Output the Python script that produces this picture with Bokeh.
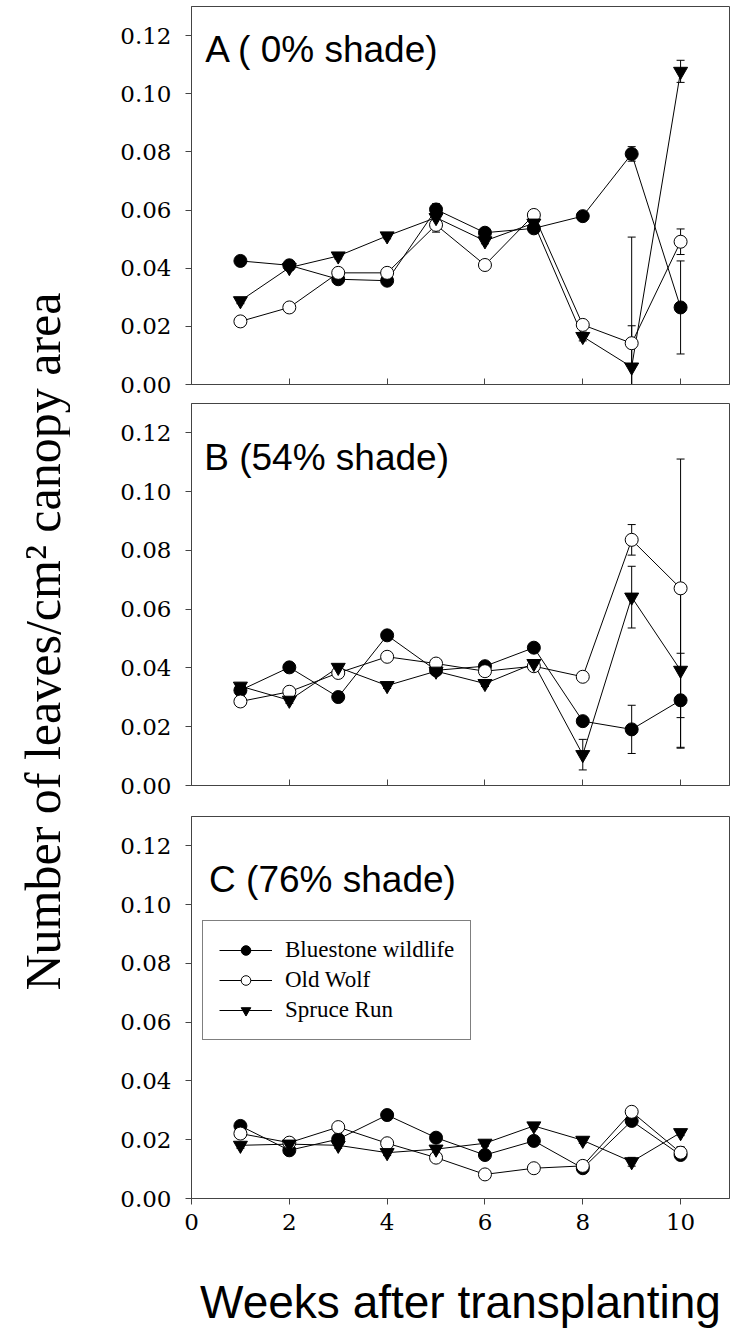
import numpy as np
from bokeh.plotting import figure
from bokeh.models import (ColumnDataSource, Whisker, TeeHead, FixedTicker,
                          PrintfTickFormatter, Label, Legend, LegendItem, Range1d)
from bokeh.layouts import row, column
from bokeh.embed import file_html
from bokeh.resources import INLINE

# ---------------- data ----------------
weeks = [1, 2, 3, 4, 5, 6, 7, 8, 9, 10]
x_ticks = [0, 2, 4, 6, 8, 10]
y_ticks = [0.00, 0.02, 0.04, 0.06, 0.08, 0.10, 0.12]
series_names = ["Bluestone wildlife", "Old Wolf", "Spruce Run"]
panel_titles = ["A ( 0% shade)", "B (54% shade)", "C (76% shade)"]

# Panel A (0% shade)
bw_A = [0.0425, 0.0410, 0.0362, 0.0357, 0.0602, 0.0522, 0.0537, 0.0579, 0.0793, 0.0265]
ow_A = [0.0217, 0.0265, 0.0384, 0.0384, 0.0549, 0.0411, 0.0583, 0.0205, 0.0142, 0.0491]
sr_A = [0.0288, 0.0402, 0.0442, 0.0511, 0.0574, 0.0494, 0.0555, 0.0165, 0.0060, 0.1077]
bw_A_se = [0.001, 0.001, 0.001, 0.001, 0.002, 0.001, 0.001, 0.001, 0.0025, 0.0160]
ow_A_se = [0.001, 0.001, 0.001, 0.001, 0.0025, 0.001, 0.001, 0.001, 0.0365, 0.0044]
sr_A_se = [0.001, 0.001, 0.001, 0.001, 0.001, 0.001, 0.001, 0.0015, 0.0142, 0.0038]

# Panel B (54% shade)
bw_B = [0.0324, 0.0402, 0.0301, 0.0511, 0.0392, 0.0406, 0.0469, 0.0219, 0.0191, 0.0290]
ow_B = [0.0286, 0.0319, 0.0383, 0.0438, 0.0415, 0.0389, 0.0406, 0.0370, 0.0836, 0.0671]
sr_B = [0.0338, 0.0290, 0.0402, 0.0340, 0.0389, 0.0347, 0.0415, 0.0105, 0.0641, 0.0392]
bw_B_se = [0.001, 0.0015, 0.001, 0.001, 0.001, 0.001, 0.001, 0.0015, 0.0082, 0.0160]
ow_B_se = [0.001, 0.001, 0.001, 0.001, 0.001, 0.001, 0.001, 0.001, 0.0052, 0.0440]
sr_B_se = [0.001, 0.001, 0.001, 0.001, 0.001, 0.001, 0.001, 0.0052, 0.0105, 0.0265]

# Panel C (76% shade)
bw_C = [0.0247, 0.0164, 0.0202, 0.0284, 0.0207, 0.0148, 0.0196, 0.0103, 0.0264, 0.0148]
ow_C = [0.0221, 0.0190, 0.0243, 0.0188, 0.0139, 0.0082, 0.0103, 0.0111, 0.0295, 0.0156]
sr_C = [0.0181, 0.0185, 0.0181, 0.0156, 0.0168, 0.0188, 0.0247, 0.0198, 0.0125, 0.0224]
bw_C_se = [0.001, 0.001, 0.001, 0.001, 0.001, 0.001, 0.001, 0.001, 0.001, 0.001]
ow_C_se = [0.001, 0.001, 0.001, 0.001, 0.001, 0.001, 0.001, 0.001, 0.001, 0.002]
sr_C_se = [0.001, 0.001, 0.001, 0.001, 0.001, 0.001, 0.001, 0.001, 0.0015, 0.001]

# ---------------- styles ----------------
SERIF = "Liberation Serif"
TICK_FONT = "DejaVu Serif"
SANS = "Liberation Sans"
FRAME = "#444444"
MARKERS = [("circle", "black", 13), ("circle", "white", 13), ("inverted_triangle", "black", 14)]


def make_panel(height, b_left, b_top, b_bottom, vals, errs, title, title_pos, bottom_labels):
    p = figure(width=660, height=height, x_range=Range1d(0, 11), y_range=Range1d(0, 0.13),
               output_backend="svg", toolbar_location=None,
               min_border_left=b_left, min_border_right=1,
               min_border_top=b_top, min_border_bottom=b_bottom)
    p.grid.visible = False
    p.outline_line_color = FRAME
    p.outline_line_width = 1

    # y axis
    p.yaxis.ticker = FixedTicker(ticks=y_ticks)
    p.yaxis.formatter = PrintfTickFormatter(format="%.2f")
    p.yaxis.major_tick_out = 6
    p.yaxis.major_tick_in = 0
    p.yaxis.minor_tick_out = 0
    p.yaxis.minor_tick_in = 0
    p.yaxis.major_label_standoff = 14
    p.yaxis.major_label_text_font = TICK_FONT
    p.yaxis.major_label_text_font_size = "23px"
    p.yaxis.major_label_text_font_style = "normal"
    p.yaxis.major_label_text_color = "black"
    p.yaxis.axis_line_color = FRAME
    p.yaxis.major_tick_line_color = FRAME

    # x axis
    p.xaxis.ticker = FixedTicker(ticks=x_ticks)
    p.xaxis.minor_tick_out = 0
    p.xaxis.minor_tick_in = 0
    p.xaxis.axis_line_color = FRAME
    p.xaxis.major_tick_line_color = FRAME
    if bottom_labels:
        p.xaxis.major_tick_out = 6
        p.xaxis.major_tick_in = 0
        p.xaxis.major_label_standoff = 9
        p.xaxis.major_label_text_font = TICK_FONT
        p.xaxis.major_label_text_font_size = "23px"
        p.xaxis.major_label_text_color = "black"
        p.xaxis.axis_label = "Weeks after transplanting"
        p.xaxis.axis_label_text_font = SANS
        p.xaxis.axis_label_text_font_size = "46px"
        p.xaxis.axis_label_text_font_style = "normal"
        p.xaxis.axis_label_text_color = "black"
        p.xaxis.axis_label_standoff = 43
    else:
        p.xaxis.major_tick_out = 0
        p.xaxis.major_tick_in = 6
        p.xaxis.major_label_standoff = 0
        p.xaxis.major_label_overrides = {t: "" for t in x_ticks}
        p.xaxis.major_label_text_font_size = "1px"

    renderers = []
    for (marker, fill, size), v, e in zip(MARKERS, vals, errs):
        v = np.asarray(v)
        e = np.asarray(e)
        src = ColumnDataSource(dict(x=weeks, y=v, upper=v + e, lower=np.clip(v - e, 0, None)))
        w = Whisker(source=src, base="x", upper="upper", lower="lower",
                    line_color="black", line_width=1, level="underlay",
                    upper_head=TeeHead(size=8, line_color="black", line_width=1),
                    lower_head=TeeHead(size=8, line_color="black", line_width=1))
        p.add_layout(w)
        lr = p.line("x", "y", source=src, line_color="black", line_width=1)
        renderers.append([lr, src, marker, fill, size])
    out = []
    for lr, src, marker, fill, size in renderers:
        sr = p.scatter("x", "y", source=src, marker=marker, size=size,
                       fill_color=fill, line_color="black", line_width=1)
        out.append((lr, sr))

    p.add_layout(Label(x=title_pos[0], y=title_pos[1], text=title, text_font=SANS,
                       text_font_size="37px", text_align="left",
                       text_baseline="alphabetic", text_color="black"))
    return p, out


pA, _ = make_panel(400, 121, 6, 16, [bw_A, ow_A, sr_A], [bw_A_se, ow_A_se, sr_A_se],
                   panel_titles[0], (0.28, 0.1151), False)
pB, _ = make_panel(401, 118, 3, 16, [bw_B, ow_B, sr_B], [bw_B_se, ow_B_se, sr_B_se],
                   panel_titles[1], (0.26, 0.1116), False)
pC, rC = make_panel(542, 115, 15, 145, [bw_C, ow_C, sr_C], [bw_C_se, ow_C_se, sr_C_se],
                    panel_titles[2], (0.36, 0.1084), True)

legend = Legend(items=[LegendItem(label=n, renderers=[l, s]) for n, (l, s) in zip(series_names, rC)],
                location=(11, 158), orientation="vertical",
                label_text_font=SERIF, label_text_font_size="23px", label_text_color="black",
                glyph_width=53, glyph_height=24, label_height=24, label_standoff=13,
                padding=16, spacing=4, margin=0,
                border_line_color="black", border_line_width=1,
                background_fill_color="white", background_fill_alpha=1)
pC.add_layout(legend)

# y-axis title in its own narrow canvas, spanning all panels
t = figure(width=70, height=1343, x_range=Range1d(0, 1), y_range=Range1d(0, 1),
           output_backend="svg", toolbar_location=None, min_border=0,
           x_axis_location=None, y_axis_location=None)
t.grid.visible = False
t.outline_line_color = None
t.add_layout(Label(x=0.614, y=0.5227, text="Number of leaves/cm\u00b2 canopy area",
                   angle=np.pi / 2, text_align="center", text_baseline="middle",
                   text_font=SERIF, text_font_size="50px", text_color="black"))

layout = row(t, column(pA, pB, pC, spacing=0), spacing=0)
open("out.html", "w").write(file_html(layout, INLINE))
